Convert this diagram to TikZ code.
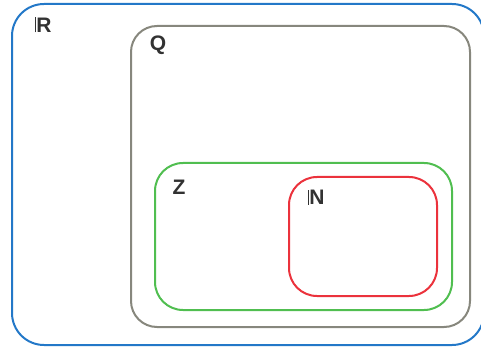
\documentclass[tikz,border=0pt]{standalone}
\usepackage{fontspec}
\newfontfamily\setfont{Liberation Sans}
\definecolor{rblue}{RGB}{35,120,200}
\definecolor{qgray}{RGB}{135,135,125}
\definecolor{zgreen}{RGB}{80,190,80}
\definecolor{nred}{RGB}{235,50,60}
\definecolor{lbl}{RGB}{50,50,50}
\newcommand{\dbar}{\rule[0pt]{0.8pt}{15pt}\hspace{0.9pt}}
\tikzset{
  setbox/.style={line width=2pt},
  setlabel/.style={font=\setfont\fontsize{21}{21}\selectfont\bfseries, text=lbl, inner sep=0pt},
}
\begin{document}
\begin{tikzpicture}[x=1pt,y=-1pt]
\useasboundingbox (0,0) rectangle (481,347);
\clip (0,0) rectangle (481,347);
\draw[setbox, rblue, rounded corners=32pt] (12,4) rectangle (484,345);
\draw[setbox, qgray, rounded corners=26pt] (131,26) rectangle (470,327);
\draw[setbox, zgreen, rounded corners=28pt] (155,163) rectangle (452,310);
\draw[setbox, nred, rounded corners=28pt] (289,177) rectangle (437,296);
\node[setlabel] (r) at (43,25) {\dbar R};
\node[setlabel] (q) at (158,45) {Q};
\node[setlabel] (z) at (179,187) {Z};
\node[setlabel] (n) at (316,197) {\dbar N};
\end{tikzpicture}
\end{document}
